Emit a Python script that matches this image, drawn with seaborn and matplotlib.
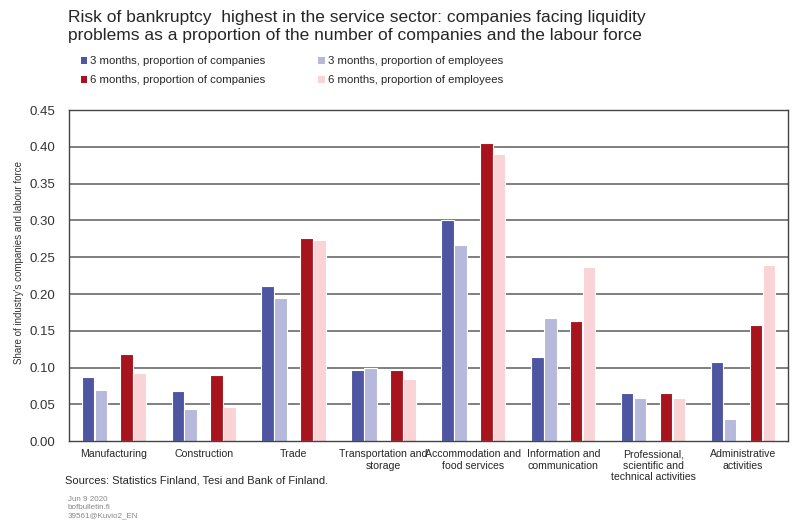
import numpy as np
import pandas as pd
import matplotlib
matplotlib.use("Agg")
import matplotlib.pyplot as plt
from matplotlib.patches import Patch
import seaborn as sns

sectors = ["Manufacturing", "Construction", "Trade", "Transportation and\nstorage",
           "Accommodation and\nfood services", "Information and\ncommunication",
           "Professional,\nscientific and\ntechnical activities", "Administrative\nactivities"]
series = ["3 months, proportion of companies", "3 months, proportion of employees",
          "6 months, proportion of companies", "6 months, proportion of employees"]
m3_companies = [0.087, 0.068, 0.211, 0.097, 0.301, 0.114, 0.065, 0.108]
m3_employees = [0.070, 0.043, 0.195, 0.099, 0.266, 0.168, 0.058, 0.030]
m6_companies = [0.119, 0.090, 0.276, 0.097, 0.405, 0.163, 0.065, 0.158]
m6_employees = [0.092, 0.046, 0.273, 0.084, 0.391, 0.237, 0.058, 0.239]
yticks = [0.00, 0.05, 0.10, 0.15, 0.20, 0.25, 0.30, 0.35, 0.40, 0.45]

colors = ["#4E56A2", "#B6B9DC", "#A8141E", "#F9D3D5"]

rows = []
for name, vals in zip(series, [m3_companies, m3_employees, m6_companies, m6_employees]):
    for s, v in zip(sectors, vals):
        rows.append({"sector": s, "series": name, "value": v})
df = pd.DataFrame(rows)

# empty slot between the 3-month and 6-month pairs
hue_order = series[:2] + ["_gap"] + series[2:]
palette = {series[0]: colors[0], series[1]: colors[1], "_gap": "white",
           series[2]: colors[2], series[3]: colors[3]}

sns.set_style("white")
plt.rcParams['font.family'] = ['Liberation Sans', 'DejaVu Sans']

fig = plt.figure(figsize=(8, 5.22), dpi=100)
ax = fig.add_axes([0.086, 0.155, 0.899, 0.634])

for y in yticks[1:-1]:
    ax.axhline(y, color="#6a6a6a", lw=1.2, zorder=0)

sns.barplot(data=df, x="sector", y="value", hue="series", hue_order=hue_order,
            order=sectors, palette=palette, saturation=1, width=0.72, gap=0.04,
            edgecolor="white", linewidth=0.8, legend=False, ax=ax, zorder=2)

ax.set_ylim(0, 0.45)
ax.set_xlim(-0.5, len(sectors) - 0.5)
ax.set_yticks(yticks)
ax.set_yticklabels([f"{t:.2f}" for t in yticks], fontsize=9.5, color="#333333")
ax.tick_params(axis="both", length=0)
ax.tick_params(axis="y", pad=10)
ax.tick_params(axis="x", pad=6)
for lab in ax.get_xticklabels():
    lab.set_fontsize(7.6)
    lab.set_linespacing(1.15)
ax.set_xlabel("")
ax.set_ylabel("Share of industry's companies and labour force", fontsize=7, color="#333333")
ax.yaxis.set_label_coords(-0.062, 0.54)
for sp in ax.spines.values():
    sp.set_color("#444444")
    sp.set_linewidth(1.0)

fig.text(0.085, 0.98, "Risk of bankruptcy  highest in the service sector: companies facing liquidity\n"
         "problems as a proportion of the number of companies and the labour force",
         fontsize=12.5, va="top", ha="left", linespacing=1.25)

handles = [Patch(facecolor=c, edgecolor="none") for c in colors]
order = [0, 2, 1, 3]
fig.legend([handles[i] for i in order], [series[i] for i in order],
           loc="upper left", bbox_to_anchor=(0.088, 0.912), ncol=2,
           frameon=False, fontsize=8.2,
           handlelength=0.6, handleheight=0.6,
           handletextpad=0.25, columnspacing=4.6, labelspacing=0.8)

fig.text(0.081, 0.08, "Sources: Statistics Finland, Tesi and Bank of Finland.", fontsize=8, va="center")
fig.text(0.085, 0.05, "Jun 9 2020\nbofbulletin.fi\n39561@Kuvio2_EN", fontsize=5.8,
         color="#888888", va="top", linespacing=1.25)

fig.savefig("out.png", dpi=100)
